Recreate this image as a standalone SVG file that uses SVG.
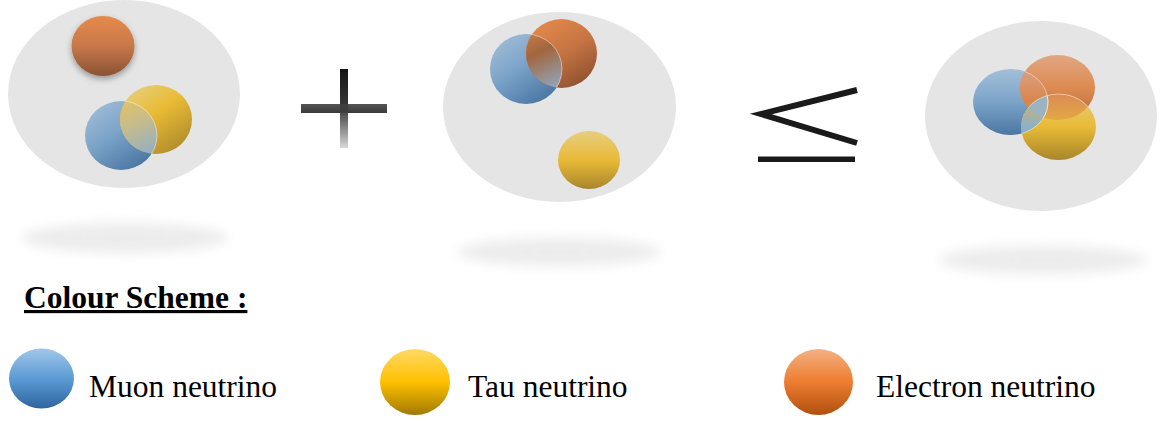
<svg xmlns="http://www.w3.org/2000/svg" width="1167" height="421" viewBox="0 0 1167 421">
<style>
.bg{fill:#e5e5e5}
.sh{fill:#ececec;filter:url(#blur)}
.edge{stroke:#ffffff;stroke-opacity:0.45;stroke-width:1}
.lbl{font-family:"Liberation Serif","Times New Roman",serif;font-size:31.5px;fill:#000}
.title{font-family:"Liberation Serif","Times New Roman",serif;font-size:31.5px;font-weight:bold;text-decoration:underline;fill:#000}
.op{fill:#1a1a1a}
</style>
<defs>
<filter id="blur" x="-20%" y="-100%" width="140%" height="300%"><feGaussianBlur stdDeviation="6"/></filter>
<filter id="drop" x="-30%" y="-30%" width="160%" height="170%"><feDropShadow dx="0" dy="3" stdDeviation="3" flood-color="#000" flood-opacity="0.35"/></filter>
<linearGradient id="blueD" x1="0" y1="0" x2="0.7" y2="1"><stop offset="0" stop-color="#a9c1d9"/><stop offset="0.5" stop-color="#7ca4c9"/><stop offset="1" stop-color="#4a76a3"/></linearGradient>
<linearGradient id="yelD" x1="0.1" y1="0" x2="0.8" y2="1"><stop offset="0" stop-color="#e7d084"/><stop offset="0.45" stop-color="#e9bb35"/><stop offset="1" stop-color="#ad8a2b"/></linearGradient>
<linearGradient id="orgD" x1="0.2" y1="0" x2="0.8" y2="1"><stop offset="0" stop-color="#e58a4c"/><stop offset="0.5" stop-color="#c57442"/><stop offset="1" stop-color="#8c4f2f"/></linearGradient>
<linearGradient id="orgV" x1="0" y1="0" x2="0" y2="1"><stop offset="0" stop-color="#e68a4b"/><stop offset="0.5" stop-color="#c8784a"/><stop offset="1" stop-color="#8a5234"/></linearGradient>
<linearGradient id="yelV" x1="0" y1="0" x2="0" y2="1"><stop offset="0" stop-color="#e6cd80"/><stop offset="0.5" stop-color="#e9ba36"/><stop offset="1" stop-color="#a8862c"/></linearGradient>
<linearGradient id="blueV" x1="0" y1="0" x2="0" y2="1"><stop offset="0" stop-color="#a3bfd9"/><stop offset="0.5" stop-color="#7ba4c9"/><stop offset="1" stop-color="#4b76a2"/></linearGradient>
<linearGradient id="orgV3" x1="0" y1="0" x2="0" y2="1"><stop offset="0" stop-color="#e0a782"/><stop offset="0.5" stop-color="#dd8b52"/><stop offset="1" stop-color="#b5683a"/></linearGradient>
<linearGradient id="ovYB" x1="0.2" y1="0" x2="0.7" y2="1"><stop offset="0" stop-color="#e8c45a"/><stop offset="0.45" stop-color="#c9bc8a"/><stop offset="1" stop-color="#86acd0"/></linearGradient>
<linearGradient id="ovOB" x1="0.2" y1="0" x2="0.7" y2="1"><stop offset="0" stop-color="#d88448"/><stop offset="0.4" stop-color="#a1663e"/><stop offset="1" stop-color="#8fb2d4"/></linearGradient>
<linearGradient id="ovBO3" x1="0" y1="0" x2="0" y2="1"><stop offset="0" stop-color="#98b6d4"/><stop offset="0.35" stop-color="#dc9a72"/><stop offset="0.7" stop-color="#d9854f"/><stop offset="1" stop-color="#d98a52"/></linearGradient>
<linearGradient id="ovOY3" x1="0" y1="0" x2="0" y2="1"><stop offset="0" stop-color="#db8b55"/><stop offset="0.5" stop-color="#e3b13f"/><stop offset="1" stop-color="#e7c042"/></linearGradient>
<linearGradient id="ovBY3" x1="0" y1="0" x2="0" y2="1"><stop offset="0" stop-color="#e2b54a"/><stop offset="0.5" stop-color="#8cb0cc"/><stop offset="1" stop-color="#7aa0c4"/></linearGradient>
<linearGradient id="plusV" x1="0" y1="0" x2="0" y2="1"><stop offset="0" stop-color="#151515"/><stop offset="0.5" stop-color="#3a3a3a"/><stop offset="1" stop-color="#d8d8d8"/></linearGradient>
<linearGradient id="plusH" x1="0" y1="0" x2="0" y2="1"><stop offset="0" stop-color="#555"/><stop offset="1" stop-color="#3a3a3a"/></linearGradient>
<linearGradient id="legB" x1="0" y1="0" x2="0" y2="1"><stop offset="0" stop-color="#a2c6e8"/><stop offset="0.5" stop-color="#5b9bd5"/><stop offset="1" stop-color="#2e659f"/></linearGradient>
<linearGradient id="legY" x1="0" y1="0" x2="0" y2="1"><stop offset="0" stop-color="#ffd966"/><stop offset="0.5" stop-color="#ffc000"/><stop offset="1" stop-color="#a07a00"/></linearGradient>
<linearGradient id="legO" x1="0" y1="0" x2="0" y2="1"><stop offset="0" stop-color="#f4b183"/><stop offset="0.5" stop-color="#ed7d31"/><stop offset="1" stop-color="#b0500f"/></linearGradient>
<clipPath id="c1y"><ellipse cx="156" cy="119.5" rx="36" ry="34.5"/></clipPath>
<clipPath id="c2o"><ellipse cx="561.5" cy="53.5" rx="35.5" ry="34.5"/></clipPath>
<clipPath id="c3b"><ellipse cx="1010.5" cy="102" rx="37.5" ry="33"/></clipPath>
<clipPath id="c3o"><ellipse cx="1057.5" cy="87.5" rx="37.5" ry="32.5"/></clipPath>
<clipPath id="c3y"><ellipse cx="1058.5" cy="127" rx="37.5" ry="33"/></clipPath>
</defs>

<g id="group1">
<ellipse class="sh" cx="125" cy="238" rx="103" ry="15"/>
<ellipse class="bg" cx="124" cy="94" rx="116" ry="94"/>
<ellipse cx="103" cy="46" rx="31.5" ry="30" fill="url(#orgV)" filter="url(#drop)"/>
<ellipse cx="121" cy="135.5" rx="36" ry="34.5" fill="url(#blueD)"/>
<ellipse cx="156" cy="119.5" rx="36" ry="34.5" fill="url(#yelD)"/>
<ellipse cx="121" cy="135.5" rx="36" ry="34.5" fill="url(#ovYB)" clip-path="url(#c1y)"/>
<ellipse class="edge" cx="121" cy="135.5" rx="36" ry="34.5" fill="none" clip-path="url(#c1y)"/>
</g>

<g id="plus">
<rect x="301" y="104" width="86" height="9" fill="url(#plusH)"/>
<rect x="340" y="69" width="8" height="79" fill="url(#plusV)"/>
<rect x="340" y="104" width="8" height="9" fill="#3e3e3e"/>
</g>

<g id="group2">
<ellipse class="sh" cx="559" cy="252" rx="102" ry="14"/>
<ellipse class="bg" cx="559.5" cy="107" rx="116.5" ry="95"/>
<ellipse cx="526" cy="69" rx="36" ry="35" fill="url(#blueD)"/>
<ellipse cx="561.5" cy="53.5" rx="35.5" ry="34.5" fill="url(#orgD)"/>
<ellipse cx="526" cy="69" rx="36" ry="35" fill="url(#ovOB)" clip-path="url(#c2o)"/>
<ellipse class="edge" cx="526" cy="69" rx="36" ry="35" fill="none" clip-path="url(#c2o)"/>
<ellipse cx="589" cy="160" rx="31" ry="29" fill="url(#yelV)"/>
</g>

<g id="leq">
<polyline points="857,90 761,114 857,143" fill="none" stroke="#1a1a1a" stroke-width="6"/>
<rect class="op" x="758" y="156.5" width="97" height="5.5"/>
</g>

<g id="group3">
<ellipse class="sh" cx="1043" cy="260" rx="104" ry="14"/>
<ellipse class="bg" cx="1041" cy="116" rx="116" ry="95"/>
<ellipse cx="1010.5" cy="102" rx="37.5" ry="33" fill="url(#blueV)"/>
<ellipse cx="1057.5" cy="87.5" rx="37.5" ry="32.5" fill="url(#orgV3)"/>
<ellipse cx="1058.5" cy="127" rx="37.5" ry="33" fill="url(#yelV)"/>
<g clip-path="url(#c3b)">
<ellipse cx="1057.5" cy="87.5" rx="37.5" ry="32.5" fill="url(#ovBO3)"/>
<ellipse cx="1058.5" cy="127" rx="37.5" ry="33" fill="url(#ovBY3)"/>
</g>
<g clip-path="url(#c3o)">
<ellipse cx="1058.5" cy="127" rx="37.5" ry="33" fill="url(#ovOY3)"/>
</g>
<g clip-path="url(#c3b)"><g clip-path="url(#c3o)">
<ellipse cx="1058.5" cy="127" rx="37.5" ry="33" fill="#9cb3c0"/>
</g></g>
<ellipse class="edge" cx="1010.5" cy="102" rx="37.5" ry="33" fill="none" clip-path="url(#c3o)"/>
<ellipse class="edge" cx="1058.5" cy="127" rx="37.5" ry="33" fill="none" clip-path="url(#c3o)"/>
<ellipse class="edge" cx="1010.5" cy="102" rx="37.5" ry="33" fill="none" clip-path="url(#c3y)"/>
</g>

<g id="legend">
<text class="title" x="24" y="308">Colour Scheme :</text>
<g id="legend-muon">
<ellipse cx="41.5" cy="378.5" rx="32.5" ry="30" fill="url(#legB)"/>
<text class="lbl" x="89" y="397">Muon neutrino</text>
</g>
<g id="legend-tau">
<ellipse cx="415" cy="382" rx="35" ry="33" fill="url(#legY)"/>
<text class="lbl" x="468" y="397">Tau neutrino</text>
</g>
<g id="legend-electron">
<ellipse cx="818.5" cy="382" rx="34.5" ry="33" fill="url(#legO)"/>
<text class="lbl" x="876" y="397">Electron neutrino</text>
</g>
</g>
</svg>
